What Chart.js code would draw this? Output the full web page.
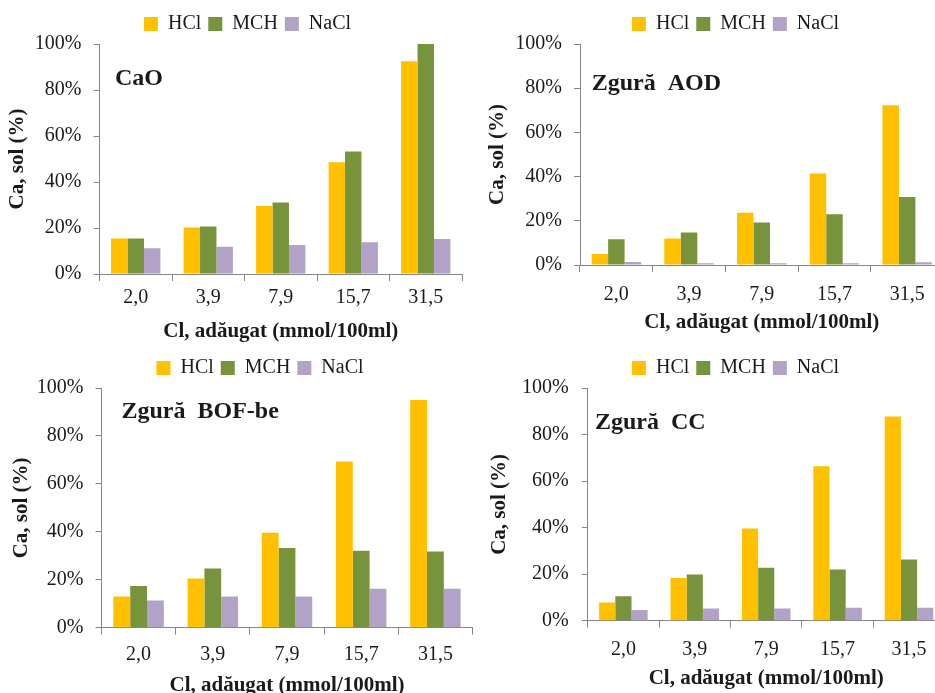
<!DOCTYPE html>
<html>
<head>
<meta charset="utf-8">
<script src="https://cdn.jsdelivr.net/npm/chart.js@4.4.1/dist/chart.umd.min.js"></script>
<style>
  html, body { margin: 0; padding: 0; background: #fff; overflow: hidden; }
  #wrap { position: relative; width: 935px; height: 693px; overflow: hidden; }
  canvas { position: absolute; }
</style>
</head>
<body>
<div id="wrap">
  <canvas id="c1" width="495" height="345" style="left:0px;top:0px"></canvas>
  <canvas id="c2" width="511" height="336" style="left:480px;top:0px"></canvas>
  <canvas id="c3" width="520" height="354" style="left:0px;top:345px"></canvas>
  <canvas id="c4" width="511" height="347" style="left:480px;top:345px"></canvas>
</div>
<script>
const categories = ['2,0', '3,9', '7,9', '15,7', '31,5'];
const seriesNames = ['HCl', 'MCH', 'NaCl'];
const seriesColors = ['#FFC000', '#77933C', '#B3A2C7'];
const yTickStep = 20;
const yMax = 100;

// Ca solubilizat (%)
const caoHCl = [15.4, 20.2, 29.6, 48.6, 92.5];
const caoMCH = [15.4, 20.6, 31.1, 53.3, 100];
const caoNaCl = [11.2, 11.9, 12.6, 13.8, 15.2];

const aodHCl = [5.0, 12.0, 23.6, 41.4, 72.3];
const aodMCH = [11.6, 14.7, 19.2, 23.0, 30.8];
const aodNaCl = [1.4, 0.8, 0.8, 0.8, 1.2];

const bofHCl = [13.0, 20.5, 39.6, 69.3, 95.0];
const bofMCH = [17.4, 24.7, 33.3, 32.1, 31.8];
const bofNaCl = [11.3, 13.0, 13.0, 16.2, 16.2];

const ccHCl = [7.9, 18.4, 39.7, 66.4, 87.8];
const ccMCH = [10.5, 19.9, 22.8, 22.0, 26.3];
const ccNaCl = [4.6, 5.3, 5.3, 5.6, 5.6];

const FONT = '"Liberation Serif", "Times New Roman", serif';
const AXIS = '#868686';
const TEXT = '#1a1a1a';

const innerTitle = {
  id: 'innerTitle',
  afterDraw(chart, args, opts) {
    const { ctx, chartArea } = chart;
    ctx.save();
    ctx.font = 'bold 24px ' + FONT;
    ctx.fillStyle = TEXT;
    ctx.textBaseline = 'middle';
    ctx.textAlign = 'left';
    ctx.fillText(opts.text, chartArea.left + opts.dx, chartArea.top + opts.dy);
    ctx.restore();
  }
};

function makeChart(id, title, values, lay) {
  const ctx = document.getElementById(id).getContext('2d');
  return new Chart(ctx, {
    type: 'bar',
    data: {
      labels: categories,
      datasets: seriesNames.map((name, i) => ({
        label: name,
        data: values[i],
        backgroundColor: seriesColors[i],
        borderWidth: 0,
        categoryPercentage: 0.68,
        barPercentage: 1.0
      }))
    },
    options: {
      responsive: false,
      animation: false,
      layout: { padding: { top: lay.top, left: 0, right: 0, bottom: 0 } },
      scales: {
        x: {
          grid: { display: true, drawOnChartArea: false, drawTicks: true, tickLength: 7, color: AXIS },
          border: { display: true, color: AXIS, width: 1 },
          ticks: { color: TEXT, font: { family: FONT, size: 20 }, padding: lay.xPad, maxRotation: 0 },
          title: { display: true, text: 'Cl, adăugat (mmol/100ml)', color: TEXT,
                   font: { family: FONT, size: 21, weight: 'bold' }, padding: { top: 0, bottom: 1 } },
          afterFit: s => { s.height = lay.xHeight; }
        },
        y: {
          min: 0,
          max: yMax,
          grid: { display: true, drawOnChartArea: false, drawTicks: true, tickLength: 6, color: AXIS },
          border: { display: true, color: AXIS, width: 1 },
          ticks: { stepSize: yTickStep, color: TEXT, font: { family: FONT, size: 20 }, padding: lay.yPad,
                   callback: v => v + '%' },
          title: { display: true, text: 'Ca, sol (%)', color: TEXT,
                   font: { family: FONT, size: 21, weight: 'bold' }, padding: { top: lay.yTitlePad, bottom: 0 } },
          afterFit: s => { s.width = lay.yWidth; }
        },
        pad: {
          type: 'linear',
          position: 'right',
          display: true,
          grid: { display: false },
          border: { display: false },
          ticks: { display: false },
          afterFit: s => { s.width = lay.right; }
        }
      },
      plugins: {
        legend: {
          position: 'top',
          labels: { boxWidth: 14, boxHeight: 14, padding: 7, color: TEXT, font: { family: FONT, size: 20 } }
        },
        tooltip: { enabled: false },
        innerTitle: { text: title, dx: lay.tdx, dy: lay.tdy }
      }
    },
    plugins: [innerTitle]
  });
}

makeChart('c1', 'CaO', [caoHCl, caoMCH, caoNaCl],
  { top: 7, yWidth: 99.5, right: 33, xHeight: 71, xPad: 5, yPad: 12, yTitlePad: 5, tdx: 15.5, tdy: 35 });
makeChart('c2', 'Zgură  AOD', [aodHCl, aodMCH, aodNaCl],
  { top: 7, yWidth: 100, right: 47.5, xHeight: 71, xPad: 11, yPad: 12, yTitlePad: 5.4, tdx: 11.7, tdy: 40 });
makeChart('c3', 'Zgură  BOF-be', [bofHCl, bofMCH, bofNaCl],
  { top: 6, yWidth: 101.5, right: 47.5, xHeight: 71.3, xPad: 8, yPad: 12, yTitlePad: 9, tdx: 20, tdy: 23.4 });
makeChart('c4', 'Zgură  CC', [ccHCl, ccMCH, ccNaCl],
  { top: 6, yWidth: 107.7, right: 46.3, xHeight: 71.2, xPad: 10, yPad: 13, yTitlePad: 7.4, tdx: 7.3, tdy: 35 });
</script>
</body>
</html>
